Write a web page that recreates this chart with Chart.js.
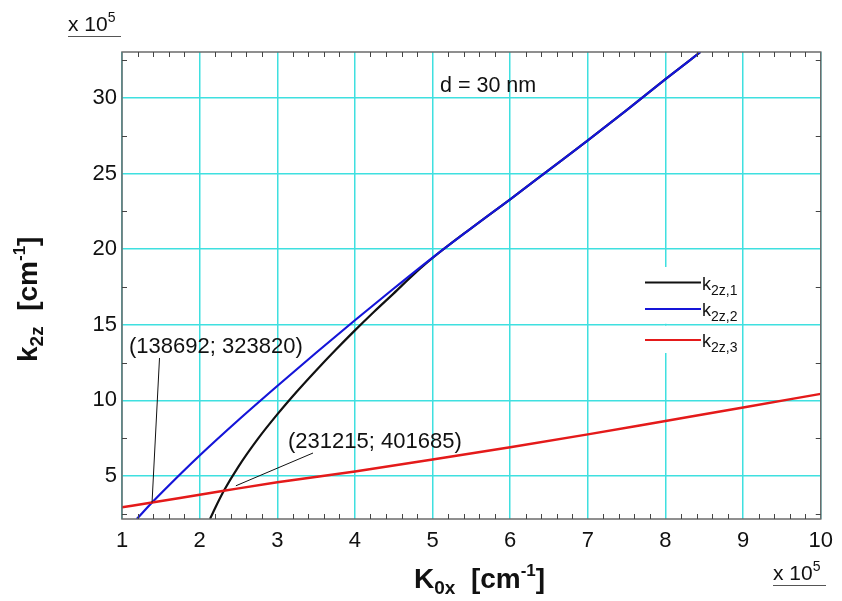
<!DOCTYPE html>
<html>
<head>
<meta charset="utf-8">
<script src="https://cdn.jsdelivr.net/npm/chart.js@4.4.0/dist/chart.umd.min.js"></script>
<style>
  body { margin: 0; background: #fff; }
</style>
</head>
<body>
<canvas id="myChart" width="842" height="601"></canvas>

<script>
// all values in units of 1e5 cm^-1
const k1X = [2.134, 2.2, 2.312, 2.5, 2.75, 3.0, 3.25, 3.5, 3.75, 4.0, 4.25, 4.5, 4.75, 5.0, 5.5, 6.0, 6.5, 7.0, 7.5, 8.0, 8.45];
const k1Y = [2.15, 2.88, 4.02, 5.62, 7.45, 9.07, 10.57, 11.98, 13.33, 14.63, 15.88, 17.08, 18.3, 19.42, 21.4, 23.3, 25.25, 27.2, 29.2, 31.25, 33.05];

const k2X = [1.19, 1.387, 1.6, 2.0, 2.5, 3.0, 3.5, 4.0, 4.5, 5.0, 5.5, 6.0, 6.5, 7.0, 7.5, 8.0, 8.45];
const k2Y = [2.15, 3.24, 4.35, 6.35, 8.7, 10.95, 13.15, 15.3, 17.4, 19.45, 21.4, 23.3, 25.25, 27.2, 29.2, 31.25, 33.05];

const k3X = [1.0, 1.387, 2.0, 2.312, 3.0, 4.0, 5.0, 6.0, 7.0, 8.0, 9.0, 10.0];
const k3Y = [2.93, 3.24, 3.76, 4.02, 4.58, 5.3, 6.08, 6.9, 7.75, 8.64, 9.53, 10.43];

const xTickValues = [1, 2, 3, 4, 5, 6, 7, 8, 9, 10];
const yTickValues = [5, 10, 15, 20, 25, 30];

const seriesNames = ['2z,1', '2z,2', '2z,3'];
const crossPoints = [
  { x: 1.38692, y: 3.2382, text: '(138692; 323820)' },
  { x: 2.31215, y: 4.01685, text: '(231215; 401685)' }
];
const noteText = 'd = 30 nm';
</script>

<script>
const FONT = '"Liberation Sans", Arial, Helvetica, sans-serif';
const GRID = '#3fe0e0';
const COLORS = ['#111111', '#1515d8', '#e41a1a'];

const pts = (xs, ys) => xs.map((v, i) => ({ x: v, y: ys[i] }));

function rich(ctx, parts, x, y) {
  let cx = x;
  for (const p of parts) {
    ctx.font = p.f;
    ctx.fillText(p.t, cx, y + (p.dy || 0));
    cx += ctx.measureText(p.t).width;
  }
  return cx;
}

const decor = {
  id: 'decor',
  beforeDatasetsDraw(chart) {
    const { ctx, scales: { x, y } } = chart;
    // the legend hides a piece of the x = 8 grid line (the y = 15 line stays)
    const gx = x.getPixelForValue(8) - 2;
    const gy = y.getPixelForValue(15);
    ctx.save();
    ctx.fillStyle = '#fff';
    ctx.fillRect(gx, 267, 4, gy - 1 - 267);
    ctx.fillRect(gx, gy + 1, 4, 353 - gy - 1);
    ctx.restore();
  },
  afterDatasetsDraw(chart) {
    const { ctx, chartArea: a, scales: { x, y } } = chart;
    ctx.save();

    // box
    ctx.strokeStyle = '#6b6b6b';
    ctx.lineWidth = 1.5;
    ctx.strokeRect(a.left, a.top, a.right - a.left, a.bottom - a.top);

    // minor ticks, inside
    ctx.lineWidth = 1;
    ctx.strokeStyle = '#444';
    ctx.beginPath();
    for (let i = 6; i < 50; i++) {
      if (i % 5 === 0) continue;
      const px = Math.round(x.getPixelForValue(i / 5)) + 0.5;
      ctx.moveTo(px, a.bottom); ctx.lineTo(px, a.bottom - 5);
      ctx.moveTo(px, a.top); ctx.lineTo(px, a.top + 5);
    }
    for (let v = 2.5; v < 33; v += 5) {
      const py = Math.round(y.getPixelForValue(v)) + 0.5;
      ctx.moveTo(a.left, py); ctx.lineTo(a.left + 5, py);
      ctx.moveTo(a.right, py); ctx.lineTo(a.right - 5, py);
    }
    ctx.stroke();

    // crossing annotations
    ctx.fillStyle = '#111';
    ctx.strokeStyle = '#111';
    ctx.lineWidth = 1;
    ctx.font = '22px ' + FONT;
    ctx.textBaseline = 'alphabetic';
    const p0 = crossPoints[0], p1 = crossPoints[1];
    ctx.fillText(p0.text, 129, 353);
    ctx.beginPath();
    ctx.moveTo(x.getPixelForValue(p0.x), y.getPixelForValue(p0.y));
    ctx.lineTo(159.5, 358);
    ctx.stroke();
    ctx.fillText(p1.text, 288, 448);
    ctx.beginPath();
    ctx.moveTo(x.getPixelForValue(p1.x) + 12, y.getPixelForValue(p1.y) - 5);
    ctx.lineTo(313, 453);
    ctx.stroke();

    // thickness note
    ctx.font = '21.5px ' + FONT;
    ctx.fillText(noteText, 440, 92);

    // legend
    const rows = [282.5, 309, 340];
    chart.data.datasets.slice().reverse().forEach((ds, i) => {
      const ly = rows[i];
      ctx.strokeStyle = ds.borderColor;
      ctx.lineWidth = 2;
      ctx.beginPath();
      ctx.moveTo(645, ly); ctx.lineTo(701, ly);
      ctx.stroke();
      ctx.fillStyle = '#111';
      rich(ctx, [
        { t: 'k', f: '18px ' + FONT },
        { t: seriesNames[i], f: '14px ' + FONT, dy: 5 }
      ], 702, ly + 7);
    });
    ctx.restore();
  },
  afterDraw(chart) {
    const { ctx } = chart;
    ctx.save();
    ctx.fillStyle = '#111';
    ctx.textBaseline = 'alphabetic';
    const B = 'bold 28px ' + FONT, BS = 'bold 19px ' + FONT, BP = 'bold 17px ' + FONT;

    // x title
    rich(ctx, [
      { t: 'K', f: B }, { t: '0x', f: BS, dy: 6 }, { t: '  [cm', f: B },
      { t: '-1', f: BP, dy: -12 }, { t: ']', f: B }
    ], 414, 588);

    // y title
    ctx.save();
    ctx.translate(37, 362);
    ctx.rotate(-Math.PI / 2);
    rich(ctx, [
      { t: 'k', f: B }, { t: '2z', f: BS, dy: 6 }, { t: '  [cm', f: B },
      { t: '-1', f: BP, dy: -12 }, { t: ']', f: B }
    ], 0, 0);
    ctx.restore();

    // exponent labels
    ctx.strokeStyle = '#555';
    ctx.lineWidth = 1;
    const expo = (x0, y0) => {
      rich(ctx, [
        { t: 'x 10', f: '21px ' + FONT }, { t: '5', f: '14px ' + FONT, dy: -9 }
      ], x0, y0);
      ctx.beginPath();
      ctx.moveTo(x0, y0 + 5.5); ctx.lineTo(x0 + 53, y0 + 5.5);
      ctx.stroke();
    };
    expo(68, 31);
    expo(773, 580);
    ctx.restore();
  }
};

const config = {
  type: 'scatter',
  data: {
    datasets: [
      { label: 'k2z,3', data: pts(k3X, k3Y), borderColor: COLORS[2], borderWidth: 2.5, order: 0 },
      { label: 'k2z,2', data: pts(k2X, k2Y), borderColor: COLORS[1], borderWidth: 2.2, order: 1 },
      { label: 'k2z,1', data: pts(k1X, k1Y), borderColor: COLORS[0], borderWidth: 2.2, order: 2 }
    ]
  },
  options: {
    responsive: false,
    animation: false,
    devicePixelRatio: 1,
    showLine: true,
    elements: {
      point: { radius: 0 },
      line: { cubicInterpolationMode: 'monotone', fill: false }
    },
    layout: { padding: { top: 52, right: 16, left: 0, bottom: 0 } },
    plugins: { legend: { display: false }, tooltip: { enabled: false } },
    scales: {
      x: {
        type: 'linear', min: 1, max: 10,
        afterBuildTicks: s => { s.ticks = xTickValues.map(v => ({ value: v })); },
        afterFit: s => { s.height = 82; },
        grid: { color: GRID, lineWidth: 1.5, drawTicks: false },
        border: { display: false },
        ticks: { color: '#111', padding: 9, maxRotation: 0, font: { family: FONT, size: 22 } }
      },
      y: {
        type: 'linear', min: 2.15, max: 33.05,
        afterBuildTicks: s => { s.ticks = yTickValues.map(v => ({ value: v })); },
        afterFit: s => { s.width = 122; },
        grid: { color: GRID, lineWidth: 1.5, drawTicks: false },
        border: { display: false },
        ticks: { color: '#111', padding: 5, font: { family: FONT, size: 22 } }
      }
    }
  },
  plugins: [decor]
};

var myChart = new Chart(document.getElementById('myChart'), config);
</script>
</body>
</html>
